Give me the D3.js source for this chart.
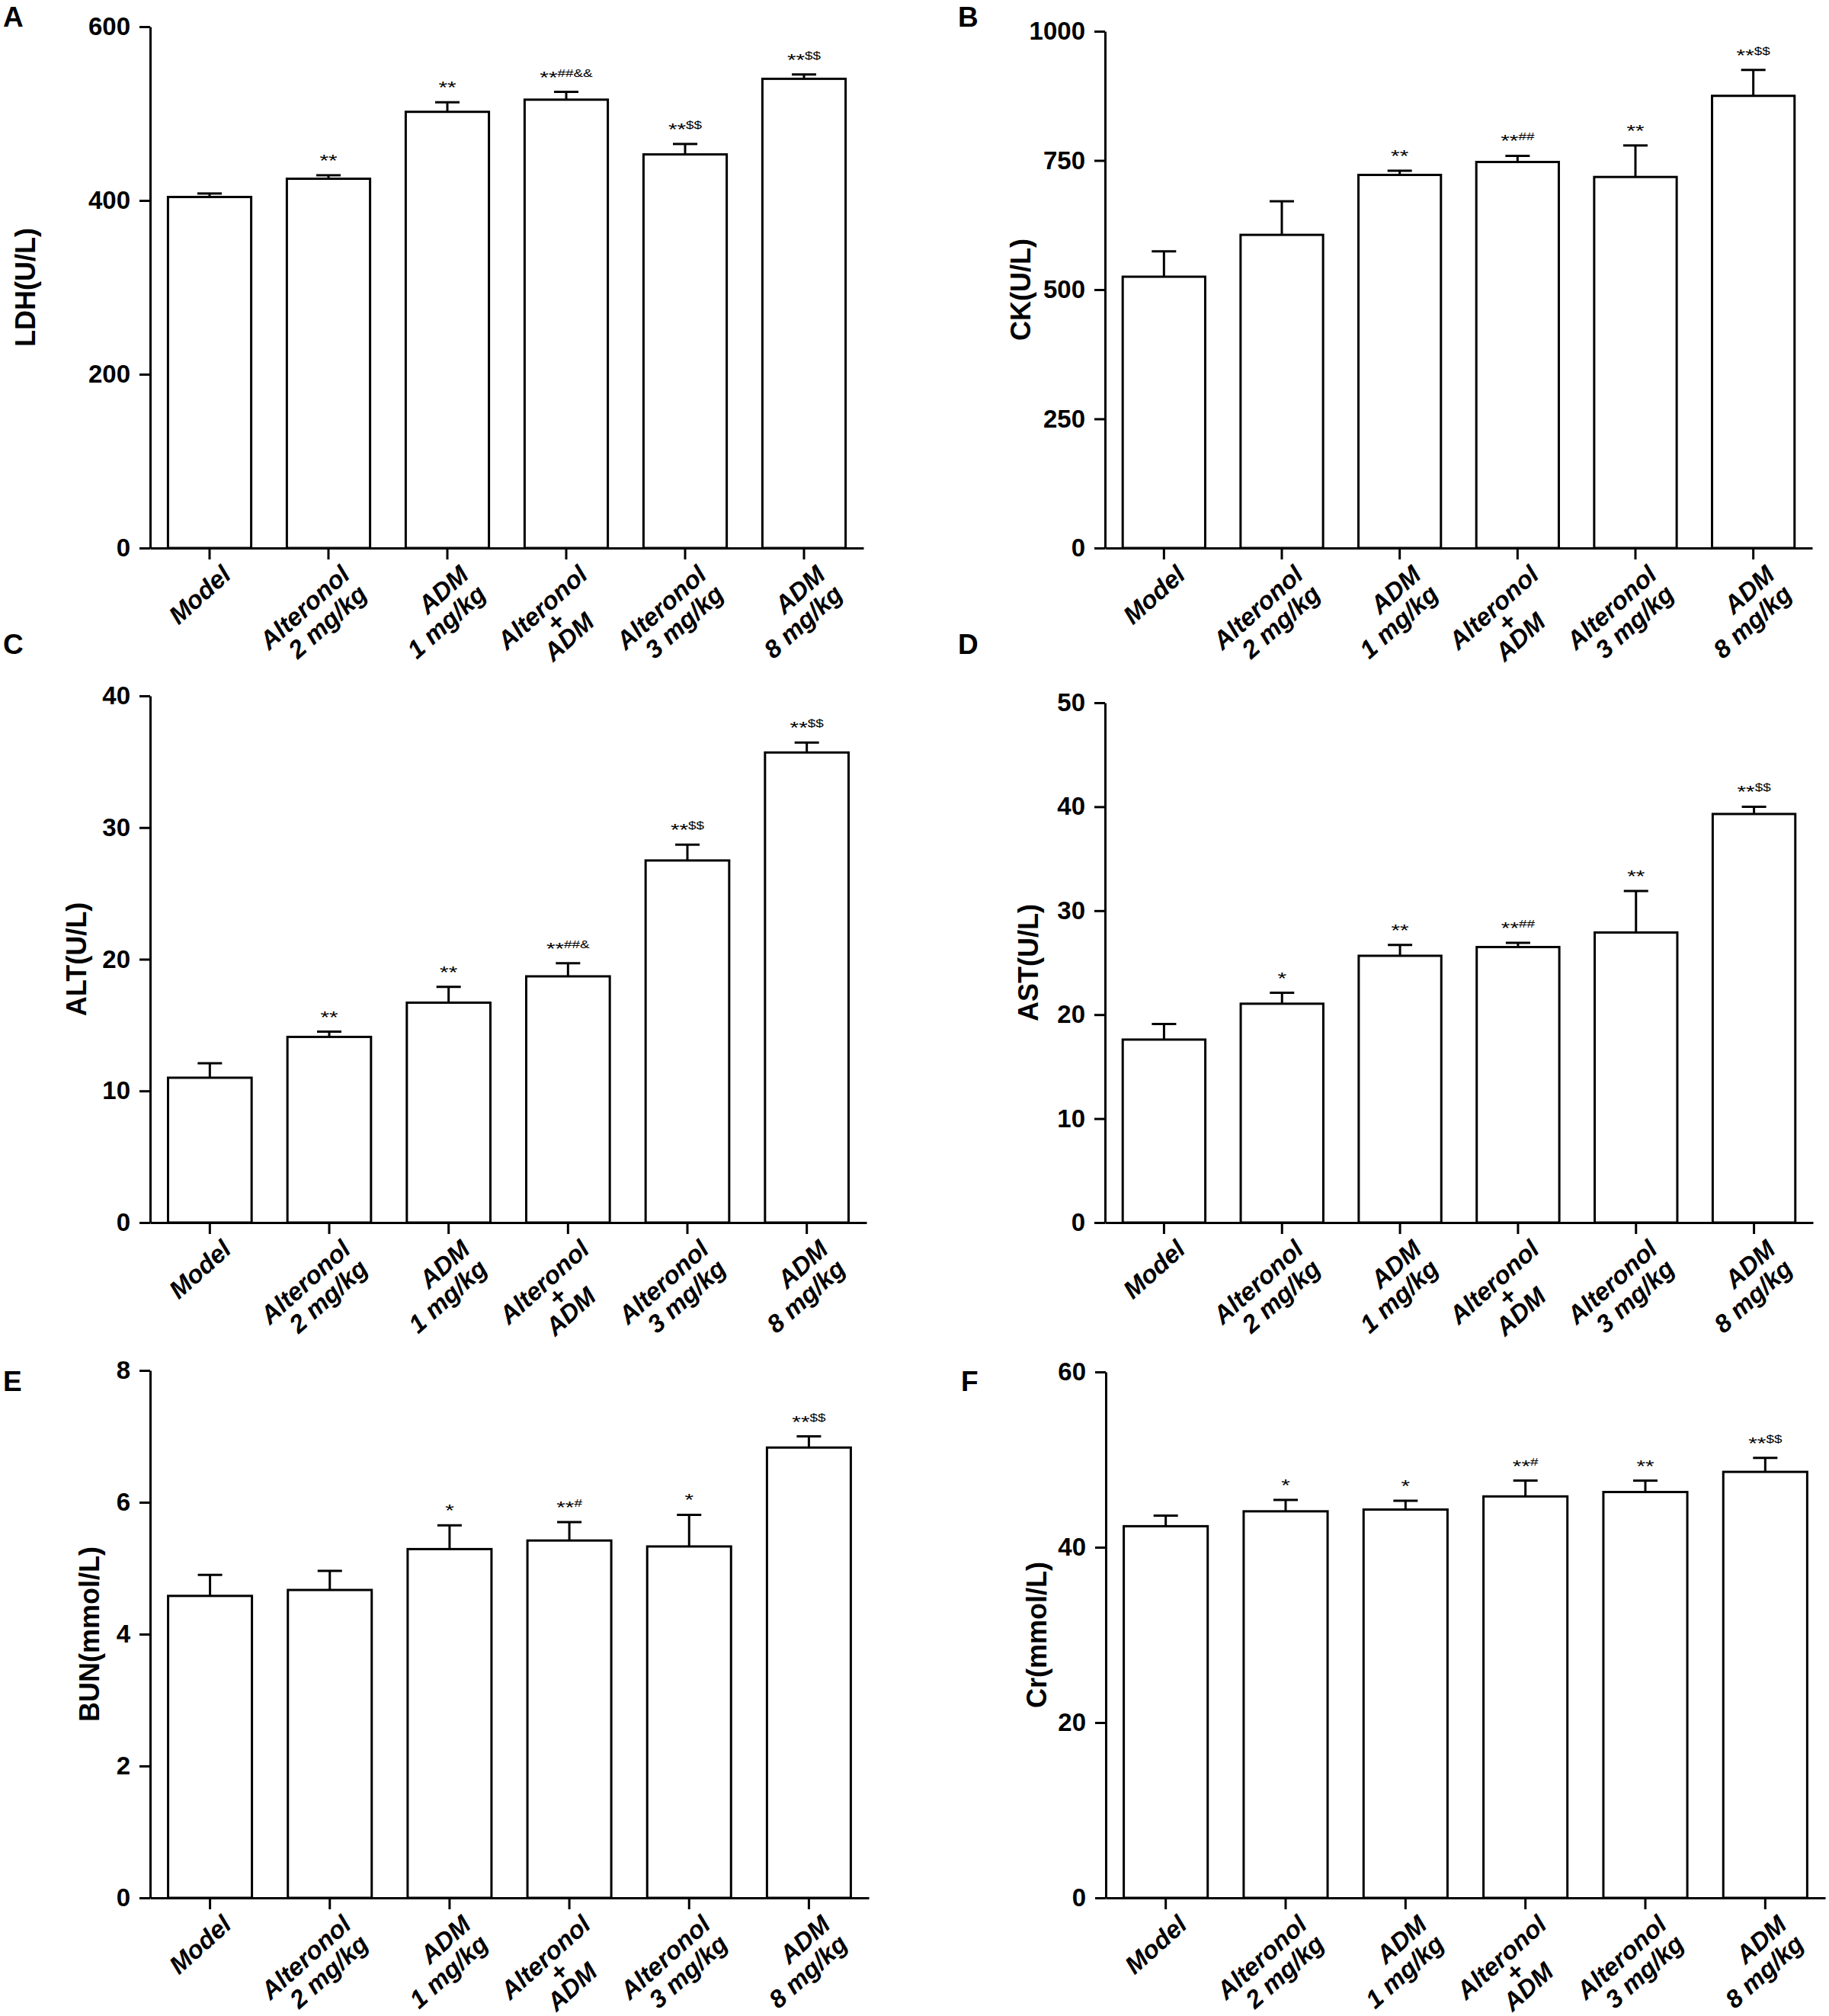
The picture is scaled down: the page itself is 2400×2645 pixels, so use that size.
<!DOCTYPE html>
<html>
<head>
<meta charset="utf-8">
<script src="https://cdn.jsdelivr.net/npm/d3@7"></script>
<style>
  body { margin: 0; background: #fff; }
  svg { display: block; background: #fff; font-family: "Liberation Sans", Arial, sans-serif; }
  .axis path, .axis line { stroke: #000; stroke-width: 3; }
  .axis text { font-size: 33px; font-weight: bold; fill: #000; font-family: "Liberation Sans", Arial, sans-serif; }
  .bar { fill: #fff; stroke: #000; stroke-width: 3; }
  .err { stroke: #000; stroke-width: 3; fill: none; }
  .xlab { font-size: 33px; font-weight: bold; font-style: italic; fill: #000; }
  .ytitle { font-size: 36px; font-weight: bold; fill: #000; }
  .plabel { font-size: 37px; font-weight: bold; fill: #000; }
  .sig { font-size: 14px; fill: #000; }
</style>
</head>
<body>
<svg id="fig" width="2400" height="2645"></svg>
<script>
// ---- data ----
const groups = [
  ['Model'],
  ['Alteronol', '2 mg/kg'],
  ['ADM', '1 mg/kg'],
  ['Alteronol', '+', 'ADM'],
  ['Alteronol', '3 mg/kg'],
  ['ADM', '8 mg/kg']
];

const ldhMean = [404, 425, 502, 516, 453, 540];
const ldhSem  = [4, 4, 11, 9, 12, 5];
const ldhSig  = ['', '**', '**', '**##&&', '**$$', '**$$'];
const ldhTicks = [0, 200, 400, 600];

const ckMean = [525, 606, 722, 747, 718, 875];
const ckSem  = [49, 65, 8, 12, 61, 50];
const ckSig  = ['', '', '**', '**##', '**', '**$$'];
const ckTicks = [0, 250, 500, 750, 1000];

const altMean = [11.0, 14.1, 16.7, 18.7, 27.5, 35.7];
const altSem  = [1.1, 0.4, 1.2, 1.0, 1.2, 0.75];
const altSig  = ['', '**', '**', '**##&', '**$$', '**$$'];
const altTicks = [0, 10, 20, 30, 40];

const astMean = [17.6, 21.05, 25.66, 26.5, 27.9, 39.3];
const astSem  = [1.5, 1.05, 1.05, 0.4, 4.0, 0.7];
const astSig  = ['', '*', '**', '**##', '**', '**$$'];
const astTicks = [0, 10, 20, 30, 40, 50];

const bunMean = [4.58, 4.67, 5.29, 5.42, 5.33, 6.83];
const bunSem  = [0.32, 0.29, 0.36, 0.28, 0.48, 0.17];
const bunSig  = ['', '', '*', '**#', '*', '**$$'];
const bunTicks = [0, 2, 4, 6, 8];

const crMean = [42.4, 44.1, 44.3, 45.8, 46.3, 48.6];
const crSem  = [1.2, 1.3, 1.0, 1.8, 1.3, 1.6];
const crSig  = ['', '*', '*', '**#', '**', '**$$'];
const crTicks = [0, 20, 40, 60];

// ---- layout of the six panels (pixel positions only) ----
const panels = [
  {label: 'A', title: 'LDH(U/L)',    mean: ldhMean, sem: ldhSem, sig: ldhSig, ticks: ldhTicks,
   x0: 197, x1: 1133, yTop: 35, yZero: 719, titleX: 33, labelX: 4, labelY: 35},
  {label: 'B', title: 'CK(U/L)',     mean: ckMean, sem: ckSem, sig: ckSig, ticks: ckTicks,
   x0: 1450, x1: 2378, yTop: 41, yZero: 719, titleX: 1339, labelX: 1257, labelY: 35},
  {label: 'C', title: 'ALT(U/L)',    mean: altMean, sem: altSem, sig: altSig, ticks: altTicks,
   x0: 197, x1: 1137, yTop: 913, yZero: 1604, titleX: 100, labelX: 4, labelY: 858},
  {label: 'D', title: 'AST(U/L)',    mean: astMean, sem: astSem, sig: astSig, ticks: astTicks,
   x0: 1450, x1: 2379, yTop: 922, yZero: 1604, titleX: 1349, labelX: 1257, labelY: 858},
  {label: 'E', title: 'BUN(mmol/L)', mean: bunMean, sem: bunSem, sig: bunSig, ticks: bunTicks,
   x0: 197, x1: 1140, yTop: 1798, yZero: 2490, titleX: 117, labelX: 4, labelY: 1825},
  {label: 'F', title: 'Cr(mmol/L)',  mean: crMean, sem: crSem, sig: crSig, ticks: crTicks,
   x0: 1451, x1: 2395, yTop: 1800, yZero: 2490, titleX: 1360, labelX: 1261, labelY: 1825}
];

const svg = d3.select('#fig');
const keys = groups.map(g => g.join(' '));
const capHalf = 16;
const lineH = 34;

panels.forEach(p => {
  const g = svg.append('g');
  const rows = keys.map((k, i) => ({key: k, lines: groups[i], mean: p.mean[i], sem: p.sem[i], sig: p.sig[i]}));

  const x = d3.scaleBand()
    .domain(keys)
    .range([p.x0, p.x1])
    .paddingInner(0.3)
    .paddingOuter(0.15);

  const y = d3.scaleLinear()
    .domain([0, d3.max(p.ticks)])
    .range([p.yZero, p.yTop]);

  // bars
  g.selectAll('.bar')
    .data(rows)
    .join('rect')
      .attr('class', 'bar')
      .attr('x', d => x(d.key))
      .attr('width', x.bandwidth())
      .attr('y', d => y(d.mean))
      .attr('height', d => y(0) - y(d.mean));

  // upper error bars
  const cx = d => x(d.key) + x.bandwidth() / 2;
  g.selectAll('.err-v')
    .data(rows)
    .join('line')
      .attr('class', 'err')
      .attr('x1', cx).attr('x2', cx)
      .attr('y1', d => y(d.mean)).attr('y2', d => y(d.mean + d.sem));
  g.selectAll('.err-cap')
    .data(rows)
    .join('line')
      .attr('class', 'err')
      .attr('x1', d => cx(d) - capHalf).attr('x2', d => cx(d) + capHalf)
      .attr('y1', d => y(d.mean + d.sem)).attr('y2', d => y(d.mean + d.sem));

  // significance marks, glyphs are stretched wide in the original
  const sigs = g.selectAll('.sig')
    .data(rows.filter(d => d.sig))
    .join('text')
      .attr('class', 'sig')
      .attr('text-anchor', 'middle')
      .attr('transform', d => `translate(${cx(d)},${y(d.mean + d.sem) - 20}) scale(1.35,1)`);
  sigs.each(function(d) {
    const m = d.sig.match(/^(\*+)(.*)$/);
    const t = d3.select(this);
    t.append('tspan').attr('font-size', 22).attr('dy', 8).text(m[1]);
    if (m[2]) t.append('tspan').attr('dy', -8).text(m[2]);
  });

  // y axis
  g.append('g')
    .attr('class', 'axis')
    .attr('transform', `translate(${p.x0},0)`)
    .call(d3.axisLeft(y).tickValues(p.ticks).tickFormat(d3.format('d'))
      .tickSize(14).tickSizeOuter(0).tickPadding(12));

  // x axis with ticks only, labels drawn below
  g.append('g')
    .attr('class', 'axis')
    .attr('transform', `translate(0,${p.yZero})`)
    .call(d3.axisBottom(x).tickSize(15).tickSizeOuter(0).tickFormat(''));

  // rotated, multi-line category labels
  rows.forEach(d => {
    const lg = g.append('g')
      .attr('transform', `translate(${cx(d) + 30},${p.yZero + 38}) rotate(-42)`);
    const three = d.lines.length === 3;
    const offs = three ? [0, 26, 52] : d.lines.map((s, i) => i * lineH);
    const texts = d.lines.map((s, i) => lg.append('text')
      .attr('class', 'xlab')
      .attr('text-anchor', three ? 'middle' : 'end')
      .attr('y', offs[i])
      .text(s));
    if (three) {
      const w = d3.max(texts, t => t.node().getComputedTextLength());
      texts.forEach(t => t.attr('x', -w / 2));
    }
  });

  // y axis title
  g.append('text')
    .attr('class', 'ytitle')
    .attr('text-anchor', 'middle')
    .attr('dominant-baseline', 'central')
    .attr('transform', `translate(${p.titleX},${(p.yTop + p.yZero) / 2}) rotate(-90)`)
    .text(p.title);

  // panel letter
  g.append('text')
    .attr('class', 'plabel')
    .attr('x', p.labelX)
    .attr('y', p.labelY)
    .text(p.label);
});
</script>
</body>
</html>
